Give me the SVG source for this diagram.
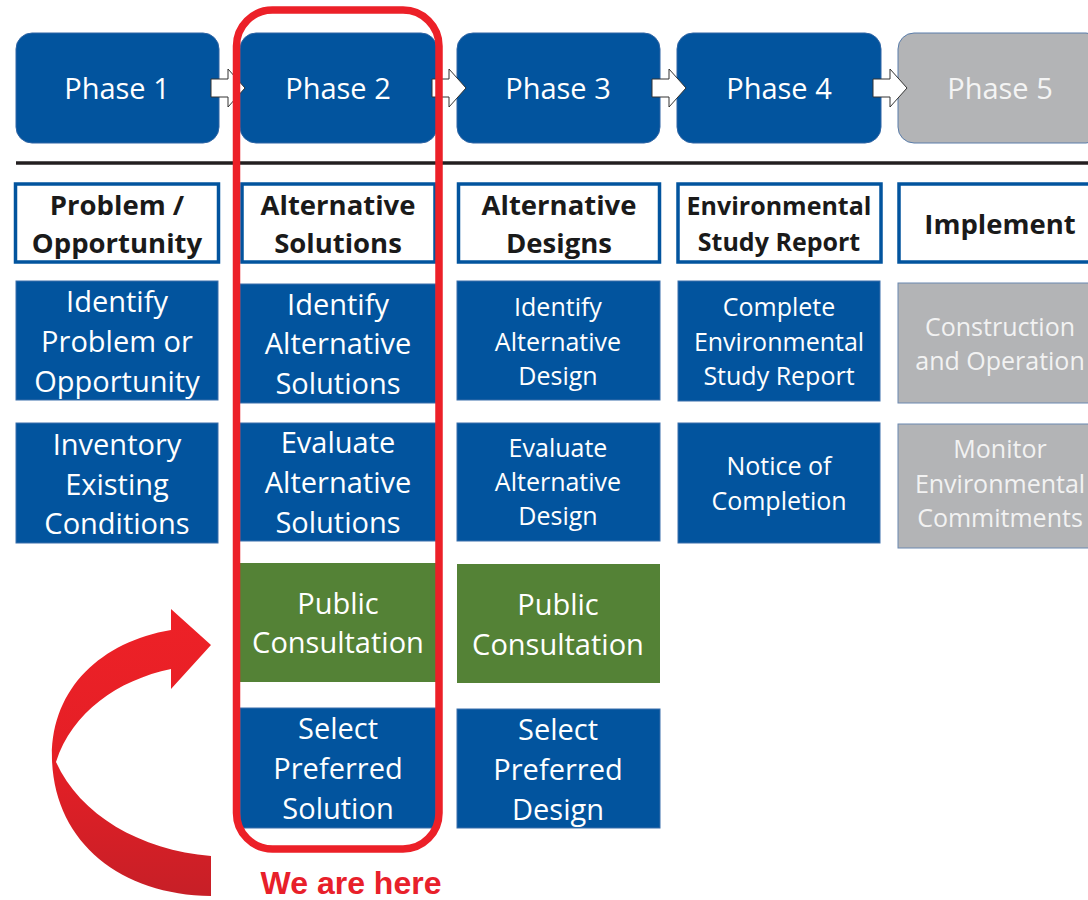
<svg xmlns="http://www.w3.org/2000/svg" width="1088" height="900" viewBox="0 0 1088 900">
<defs>
<style>
.ph{fill:#02549e;stroke:#2f65a5;stroke-width:1}
.ph5{fill:#b3b4b6;stroke:#5a7daa;stroke-width:1}
.hd{fill:#fff;stroke:#02549e;stroke-width:3.5}
.bl{fill:#02549e;stroke:#3b6fab;stroke-width:1}
.gr{fill:#548236}
.gy{fill:#b3b4b6;stroke:#6b88b0;stroke-width:1}
.arr{fill:#fff;stroke:#333;stroke-width:1}
text{font-family:"Open Sans","Noto Sans",sans-serif;text-anchor:middle}
.pt{fill:#fff;font-size:29px}
.pt5{fill:#f4f4f4;font-size:29px}
.ht{fill:#1a1a1a;font-size:27.5px;font-weight:bold}
.t1{fill:#fff;font-size:29px}
.t2{fill:#fff;font-size:25px}
.t3{fill:#f2f2f2;font-size:25px}
.here{font-family:"Liberation Sans",Arial,sans-serif;font-weight:bold;font-size:32px;fill:#e8202a}
</style>
<linearGradient id="rg" x1="0" y1="0" x2="0" y2="1">
<stop offset="0" stop-color="#ee2127"/>
<stop offset="0.55" stop-color="#e41f26"/>
<stop offset="1" stop-color="#c71f27"/>
</linearGradient>
</defs>
<rect width="1088" height="900" fill="#fff"/>

<g id="phase1"><rect class="ph" x="16" y="33" width="203" height="110" rx="16"/><text class="pt" x="117" y="99">Phase 1</text></g>
<g id="phase2"><rect class="ph" x="240" y="33" width="197" height="110" rx="16"/><text class="pt" x="338" y="99">Phase 2</text></g>
<g id="phase3"><rect class="ph" x="457" y="33" width="203" height="110" rx="16"/><text class="pt" x="558" y="99">Phase 3</text></g>
<g id="phase4"><rect class="ph" x="677" y="33" width="204" height="110" rx="16"/><text class="pt" x="779" y="99">Phase 4</text></g>
<g id="phase5"><rect class="ph5" x="898" y="33" width="204" height="110" rx="16"/><text class="pt5" x="1000" y="99">Phase 5</text></g>

<g id="connectors">
<path class="arr" d="M211,79 H228 V69 L245,88 L228,107 V97 H211 Z"/>
<path class="arr" d="M432,79 H449 V69 L466,88 L449,107 V97 H432 Z"/>
<path class="arr" d="M652,79 H669 V69 L686,88 L669,107 V97 H652 Z"/>
<path class="arr" d="M873,79 H890 V69 L907,88 L890,107 V97 H873 Z"/>
</g>

<line x1="16" y1="163" x2="1088" y2="163" stroke="#231f20" stroke-width="3.5"/>

<g id="header1"><rect class="hd" x="15.5" y="184" width="203" height="78"/><text class="ht" x="117" y="215">Problem /</text><text class="ht" x="117" y="253">Opportunity</text></g>
<g id="header2"><rect class="hd" x="242" y="184" width="193" height="78"/><text class="ht" x="338" y="215">Alternative</text><text class="ht" x="338" y="253">Solutions</text></g>
<g id="header3"><rect class="hd" x="458.5" y="184" width="201" height="78"/><text class="ht" x="559" y="215">Alternative</text><text class="ht" x="559" y="253">Designs</text></g>
<g id="header4"><rect class="hd" x="678" y="184" width="203" height="78"/><text class="ht" x="779" y="215" style="font-size:25px">Environmental</text><text class="ht" x="779" y="251" style="font-size:25px">Study Report</text></g>
<g id="header5"><rect class="hd" x="899" y="184" width="200" height="78"/><text class="ht" x="1000" y="234">Implement</text></g>

<g id="c1r1"><rect class="bl" x="16" y="281" width="202" height="119"/><text class="t1" x="117" y="312">Identify</text><text class="t1" x="117" y="352">Problem or</text><text class="t1" x="117" y="392">Opportunity</text></g>
<g id="c1r2"><rect class="bl" x="16" y="423" width="202" height="120"/><text class="t1" x="117" y="455">Inventory</text><text class="t1" x="117" y="495">Existing</text><text class="t1" x="117" y="534">Conditions</text></g>

<g id="c2r1"><rect class="bl" x="240" y="284" width="196" height="119"/><text class="t1" x="338" y="315">Identify</text><text class="t1" x="338" y="354">Alternative</text><text class="t1" x="338" y="394">Solutions</text></g>
<g id="c2r2"><rect class="bl" x="240" y="423" width="196" height="118"/><text class="t1" x="338" y="453">Evaluate</text><text class="t1" x="338" y="493">Alternative</text><text class="t1" x="338" y="533">Solutions</text></g>
<g id="c2r3"><rect class="gr" x="240" y="563" width="196" height="119"/><text class="t1" x="338" y="614">Public</text><text class="t1" x="338" y="653">Consultation</text></g>
<g id="c2r4"><rect class="bl" x="240" y="708" width="196" height="120"/><text class="t1" x="338" y="739">Select</text><text class="t1" x="338" y="779">Preferred</text><text class="t1" x="338" y="819">Solution</text></g>

<g id="c3r1"><rect class="bl" x="457" y="281" width="203" height="119"/><text class="t2" x="558" y="316">Identify</text><text class="t2" x="558" y="351">Alternative</text><text class="t2" x="558" y="385">Design</text></g>
<g id="c3r2"><rect class="bl" x="457" y="423" width="203" height="118"/><text class="t2" x="558" y="457">Evaluate</text><text class="t2" x="558" y="491">Alternative</text><text class="t2" x="558" y="525">Design</text></g>
<g id="c3r3"><rect class="gr" x="457" y="564" width="203" height="119"/><text class="t1" x="558" y="615">Public</text><text class="t1" x="558" y="655">Consultation</text></g>
<g id="c3r4"><rect class="bl" x="457" y="709" width="203" height="119"/><text class="t1" x="558" y="740">Select</text><text class="t1" x="558" y="780">Preferred</text><text class="t1" x="558" y="820">Design</text></g>

<g id="c4r1"><rect class="bl" x="678" y="281" width="202" height="120"/><text class="t2" x="779" y="316">Complete</text><text class="t2" x="779" y="351">Environmental</text><text class="t2" x="779" y="385">Study Report</text></g>
<g id="c4r2"><rect class="bl" x="678" y="423" width="202" height="120"/><text class="t2" x="779" y="475">Notice of</text><text class="t2" x="779" y="510">Completion</text></g>

<g id="c5r1"><rect class="gy" x="898" y="283" width="204" height="120"/><text class="t3" x="1000" y="336">Construction</text><text class="t3" x="1000" y="370">and Operation</text></g>
<g id="c5r2"><rect class="gy" x="898" y="424" width="204" height="124"/><text class="t3" x="1000" y="458">Monitor</text><text class="t3" x="1000" y="493">Environmental</text><text class="t3" x="1000" y="527">Commitments</text></g>

<g id="highlight">
<rect x="236.5" y="10" width="202.5" height="839" rx="36" fill="none" stroke="#ec2028" stroke-width="7.5"/>
<path d="M211,856 L211,896 C120,895 55,842 52,760 C50,690 100,642 171,630 L171,609 L211,645 L171,689 L171,669 C118,680 72,712 56,762 C80,815 140,850 211,856 Z" fill="url(#rg)"/>
<text class="here" x="351" y="894">We are here</text>
</g>
</svg>
